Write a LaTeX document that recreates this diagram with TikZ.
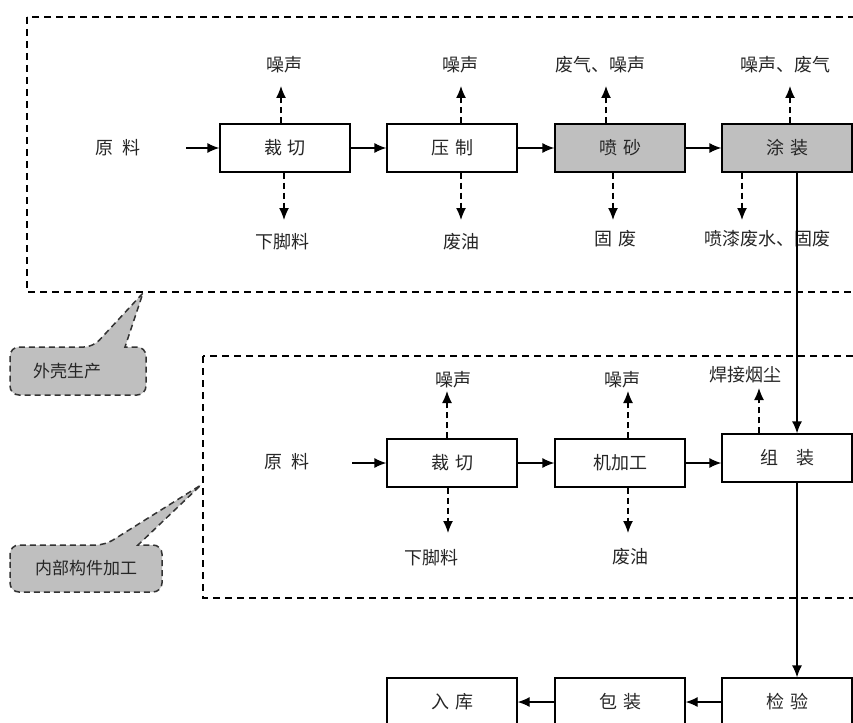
\documentclass[tikz,border=0pt]{standalone}
\usepackage{fontspec}
\setmainfont{Noto Sans CJK SC}
\usetikzlibrary{arrows.meta}
\begin{document}
\begin{tikzpicture}[x=1pt,y=-1pt,
  every node/.style={font=\fontsize{18}{21}\selectfont, text=black!85},
  proc/.style={draw, line width=1.3pt, minimum width=130pt, minimum height=48pt, inner sep=0pt},
  grayproc/.style={proc, fill=black!25},
  lab/.style={inner sep=1pt},
  flow/.style={line width=1.3pt, -{Latex[length=12pt,width=10pt]}},
  dflow/.style={line width=1.3pt, dash pattern=on 6pt off 4pt, -{Latex[length=12pt,width=10pt]}},
  region/.style={line width=1.2pt, dash pattern=on 7pt off 5pt},
  callout/.style={line width=1.5pt, dash pattern=on 6pt off 4pt, fill=black!25, draw=black!80},
  ctext/.style={font=\fontsize{17}{19}\selectfont}
]
\useasboundingbox (0,0) rectangle (853,722);
\clip (0,0) rectangle (853,722);
\fill[white] (0,0) rectangle (853,722);

% regions
\draw[region] (27,17) rectangle (880,292);
\draw[region] (203,356) rectangle (880,598);

% callouts
\draw[callout, rounded corners=9pt] (10,371) |- (93,347) [sharp corners] -- (143,293) -- (125,347) [rounded corners=9pt] -| (146,371) |- (10,395) -- cycle;
\node[ctext] (co1) at (67,371) {外壳生产};
\draw[callout, rounded corners=9pt] (10,568) |- (105,545) [sharp corners] -- (201,485) -- (138,545) [rounded corners=9pt] -| (162,568) |- (10,592) -- cycle;
\node[ctext] (co2) at (86,568) {内部构件加工};

% row 1
\node (r1) at (118,148) {原\,\,\,料};
\node[proc] (b1) at (285,148) {裁\,\,切};
\node[proc] (b2) at (452,148) {压\,\,制};
\node[grayproc] (b3) at (620,148) {喷\,\,砂};
\node[grayproc] (b4) at (787,148) {涂\,\,装};
\coordinate (s1) at (186,148);
\draw[flow] (s1) -- (b1);
\draw[flow] (b1) -- (b2);
\draw[flow] (b2) -- (b3);
\draw[flow] (b3) -- (b4);

\node[lab] (u1) at (284,65) {噪声};
\node[lab] (u2) at (460,65) {噪声};
\node[lab] (u3) at (600,65) {废气、噪声};
\node[lab] (u4) at (785,65) {噪声、废气};
\draw[dflow] (b1.north -| 281,0) -- (281,86);
\draw[dflow] (b2.north -| 461,0) -- (461,86);
\draw[dflow] (b3.north -| 606,0) -- (606,86);
\draw[dflow] (b4.north -| 790,0) -- (790,86);

\node[lab] (l1) at (282,242) {下脚料};
\node[lab] (l2) at (461,242) {废油};
\node[lab] (l3) at (615,239) {固\,\,废};
\node[lab] (l4) at (767,239) {喷漆废水、固废};
\draw[dflow] (b1.south -| 284,0) -- (284,220);
\draw[dflow] (b2.south -| 461,0) -- (461,220);
\draw[dflow] (b3.south -| 613,0) -- (613,220);
\draw[dflow] (b4.south -| 742,0) -- (742,220);

% row 2
\node (r2) at (287,462) {原\,\,\,料};
\node[proc] (c1) at (452,463) {裁\,\,切};
\node[proc] (c2) at (620,463) {机加工};
\node[proc] (c3) at (787,458) {组\quad 装};
\coordinate (s2) at (352,463);
\draw[flow] (s2) -- (c1);
\draw[flow] (c1) -- (c2);
\draw[flow] (c2) -- (c3.west |- c2);
\draw[flow] (b4.south -| 797,0) -- (c3.north -| 797,0);

\node[lab] (v1) at (453,380) {噪声};
\node[lab] (v2) at (622,380) {噪声};
\node[lab] (v3) at (745,375) {焊接烟尘};
\draw[dflow] (c1.north -| 447,0) -- (447,391);
\draw[dflow] (c2.north -| 628,0) -- (628,391);
\draw[dflow] (c3.north -| 759,0) -- (759,388);

\node[lab] (m1) at (431,558) {下脚料};
\node[lab] (m2) at (630,557) {废油};
\draw[dflow] (c1.south -| 448,0) -- (448,533);
\draw[dflow] (c2.south -| 628,0) -- (628,533);

% row 3
\node[proc] (d3) at (787,702) {检\,\,验};
\node[proc] (d2) at (620,702) {包\,\,装};
\node[proc] (d1) at (452,702) {入\,\,库};
\draw[flow] (c3.south -| 797,0) -- (d3.north -| 797,0);
\draw[flow] (d3) -- (d2);
\draw[flow] (d2) -- (d1);
\end{tikzpicture}
\end{document}
